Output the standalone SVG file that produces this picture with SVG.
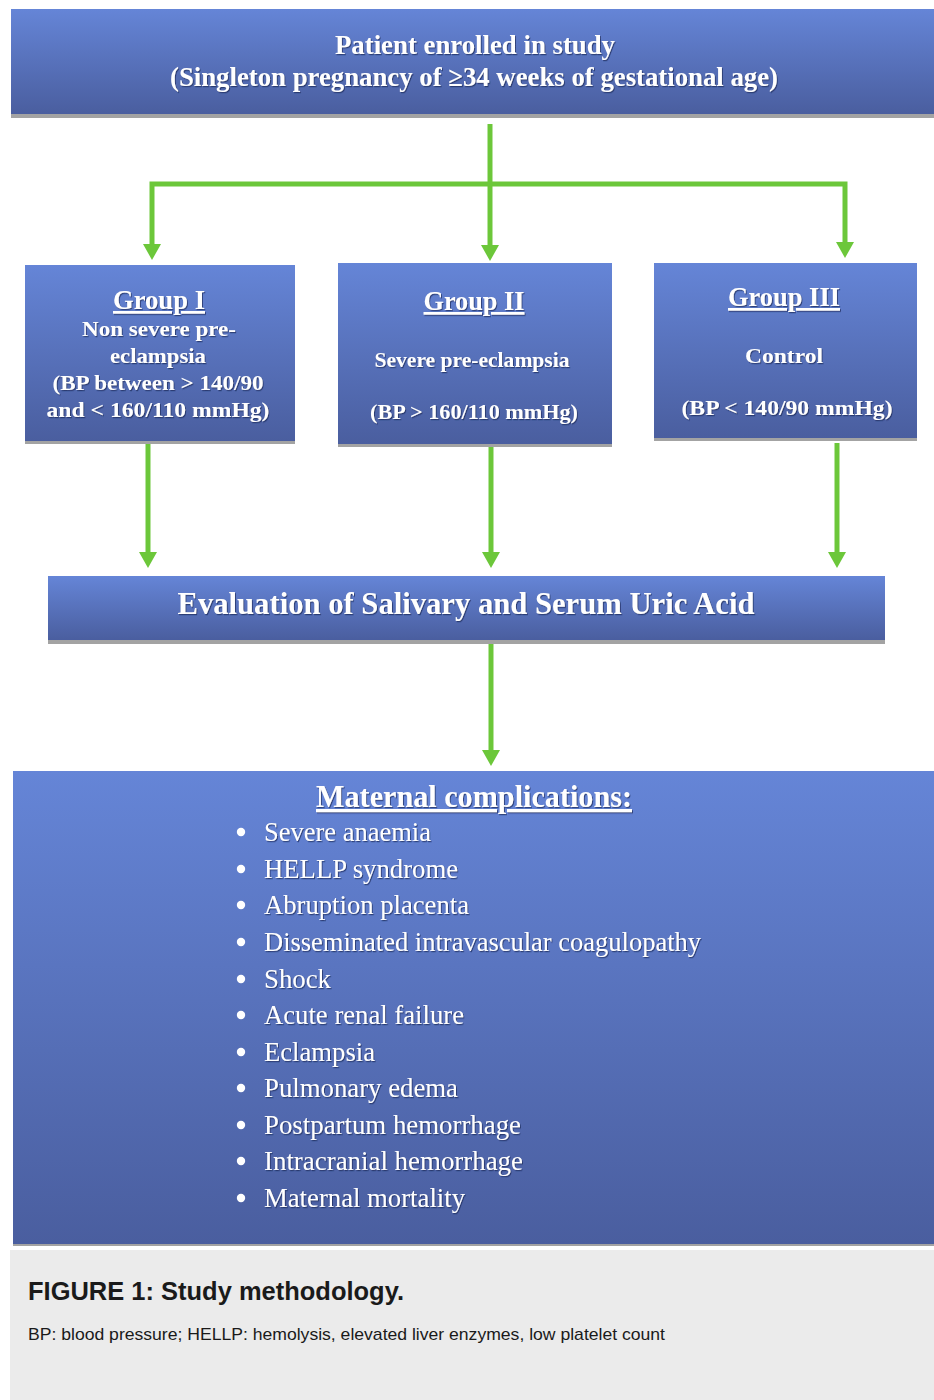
<svg xmlns="http://www.w3.org/2000/svg" width="934" height="1400" viewBox="0 0 934 1400">
<defs>
<linearGradient id="blue" x1="0" y1="0" x2="0" y2="1">
<stop offset="0" stop-color="#6585d7"/>
<stop offset="1" stop-color="#4a5e9f"/>
</linearGradient>
<filter id="ts" x="-5%" y="-20%" width="110%" height="150%">
<feDropShadow dx="1" dy="1.2" stdDeviation="0.7" flood-color="#1c2858" flood-opacity="0.7"/>
</filter>
<marker id="ahd" markerUnits="userSpaceOnUse" markerWidth="20" markerHeight="18" refX="10" refY="2" orient="0" viewBox="0 0 20 18">
<polygon points="1,0 19,0 10,16" fill="#6cc73a"/>
</marker>
</defs>
<style>
.box{fill:url(#blue)}
.sh{fill:#a3a3a3}
.t{fill:#ffffff;font-family:"Liberation Serif","Times New Roman",serif;font-weight:bold;text-anchor:middle;filter:url(#ts)}
.li{fill:#ffffff;font-family:"Liberation Serif","Times New Roman",serif;font-size:27px;filter:url(#ts)}
.u{text-decoration:underline}
.c{fill:none;stroke:#6cc73a;stroke-width:5}
.bul{fill:#ffffff}
.cap{font-family:"Liberation Sans",Arial,sans-serif;fill:#1a1a1a}
</style>
<rect x="0" y="0" width="934" height="1400" fill="#ffffff"/>

<g id="connectors">
<path class="c" d="M490 124 V184" />
<path class="c" d="M490 184 H152 V246" marker-end="url(#ahd)"/>
<path class="c" d="M490 184 H845 V244" marker-end="url(#ahd)"/>
<path class="c" d="M490 184 V247" marker-end="url(#ahd)"/>
<path class="c" d="M148 444 V554" marker-end="url(#ahd)"/>
<path class="c" d="M491 446 V554" marker-end="url(#ahd)"/>
<path class="c" d="M837 443 V554" marker-end="url(#ahd)"/>
<path class="c" d="M491 643 V752" marker-end="url(#ahd)"/>
</g>

<g id="node-patient">
<rect class="sh" x="11" y="112" width="923" height="6"/>
<rect class="box" x="11" y="9" width="923" height="105"/>
<text class="t" x="475" y="54" font-size="27" textLength="280" lengthAdjust="spacingAndGlyphs">Patient enrolled in study</text>
<text class="t" x="474" y="86" font-size="27" textLength="608" lengthAdjust="spacingAndGlyphs">(Singleton pregnancy of ≥34 weeks of gestational age)</text>
</g>

<g id="node-group1">
<rect class="sh" x="25" y="439" width="270" height="5"/>
<rect class="box" x="25" y="265" width="270" height="176"/>
<text class="t u" x="159" y="309" font-size="27" textLength="92" lengthAdjust="spacingAndGlyphs">Group I</text>
<text class="t" x="159" y="336" font-size="22" textLength="154" lengthAdjust="spacingAndGlyphs">Non severe pre-</text>
<text class="t" x="158" y="363" font-size="22" textLength="96" lengthAdjust="spacingAndGlyphs">eclampsia</text>
<text class="t" x="158" y="390" font-size="22" textLength="211" lengthAdjust="spacingAndGlyphs">(BP between &gt; 140/90</text>
<text class="t" x="158" y="417" font-size="22" textLength="223" lengthAdjust="spacingAndGlyphs">and &lt;  160/110 mmHg)</text>
</g>

<g id="node-group2">
<rect class="sh" x="338" y="442" width="274" height="5"/>
<rect class="box" x="338" y="263" width="274" height="181"/>
<text class="t u" x="474" y="310" font-size="27" textLength="101" lengthAdjust="spacingAndGlyphs">Group II</text>
<text class="t" x="472" y="367" font-size="22" textLength="195" lengthAdjust="spacingAndGlyphs">Severe pre-eclampsia</text>
<text class="t" x="474" y="419" font-size="22" textLength="208" lengthAdjust="spacingAndGlyphs">(BP &gt; 160/110 mmHg)</text>
</g>

<g id="node-group3">
<rect class="sh" x="654" y="436" width="263" height="5"/>
<rect class="box" x="654" y="263" width="263" height="175"/>
<text class="t u" x="784" y="306" font-size="27" textLength="112" lengthAdjust="spacingAndGlyphs">Group III</text>
<text class="t" x="784" y="363" font-size="22" textLength="78" lengthAdjust="spacingAndGlyphs">Control</text>
<text class="t" x="787" y="415" font-size="22" textLength="211" lengthAdjust="spacingAndGlyphs">(BP  &lt; 140/90 mmHg)</text>
</g>

<g id="node-evaluation">
<rect class="sh" x="48" y="638" width="837" height="6"/>
<rect class="box" x="48" y="576" width="837" height="64"/>
<text class="t" x="466" y="614" font-size="31" textLength="577" lengthAdjust="spacingAndGlyphs">Evaluation of Salivary and Serum Uric Acid</text>
</g>

<g id="node-complications">
<rect class="sh" x="13" y="1242" width="921" height="4"/>
<rect class="box" x="13" y="771" width="921" height="473"/>
<text class="t u" x="474" y="807" font-size="32" textLength="316" lengthAdjust="spacingAndGlyphs">Maternal complications:</text>
<circle class="bul" cx="241" cy="832" r="4.2"/>
<text class="li" x="264" y="841" textLength="167" lengthAdjust="spacingAndGlyphs">Severe anaemia</text>
<circle class="bul" cx="241" cy="869" r="4.2"/>
<text class="li" x="264" y="878" textLength="194" lengthAdjust="spacingAndGlyphs">HELLP syndrome</text>
<circle class="bul" cx="241" cy="905" r="4.2"/>
<text class="li" x="264" y="914" textLength="205" lengthAdjust="spacingAndGlyphs">Abruption placenta</text>
<circle class="bul" cx="241" cy="942" r="4.2"/>
<text class="li" x="264" y="951" textLength="437" lengthAdjust="spacingAndGlyphs">Disseminated intravascular coagulopathy</text>
<circle class="bul" cx="241" cy="979" r="4.2"/>
<text class="li" x="264" y="988" textLength="67" lengthAdjust="spacingAndGlyphs">Shock</text>
<circle class="bul" cx="241" cy="1015" r="4.2"/>
<text class="li" x="264" y="1024" textLength="200" lengthAdjust="spacingAndGlyphs">Acute renal failure</text>
<circle class="bul" cx="241" cy="1052" r="4.2"/>
<text class="li" x="264" y="1061" textLength="111" lengthAdjust="spacingAndGlyphs">Eclampsia</text>
<circle class="bul" cx="241" cy="1088" r="4.2"/>
<text class="li" x="264" y="1097" textLength="194" lengthAdjust="spacingAndGlyphs">Pulmonary edema</text>
<circle class="bul" cx="241" cy="1125" r="4.2"/>
<text class="li" x="264" y="1134" textLength="257" lengthAdjust="spacingAndGlyphs">Postpartum hemorrhage</text>
<circle class="bul" cx="241" cy="1161" r="4.2"/>
<text class="li" x="264" y="1170" textLength="259" lengthAdjust="spacingAndGlyphs">Intracranial hemorrhage</text>
<circle class="bul" cx="241" cy="1198" r="4.2"/>
<text class="li" x="264" y="1207" textLength="201" lengthAdjust="spacingAndGlyphs">Maternal mortality</text>
</g>

<g id="caption">
<rect x="10" y="1250" width="924" height="150" fill="#ebebeb"/>
<text class="cap" x="28" y="1300" font-size="26" font-weight="bold" textLength="376" lengthAdjust="spacingAndGlyphs">FIGURE 1: Study methodology.</text>
<text class="cap" x="28" y="1340" font-size="17" textLength="637" lengthAdjust="spacingAndGlyphs">BP: blood pressure; HELLP: hemolysis, elevated liver enzymes, low platelet count</text>
</g>
</svg>
